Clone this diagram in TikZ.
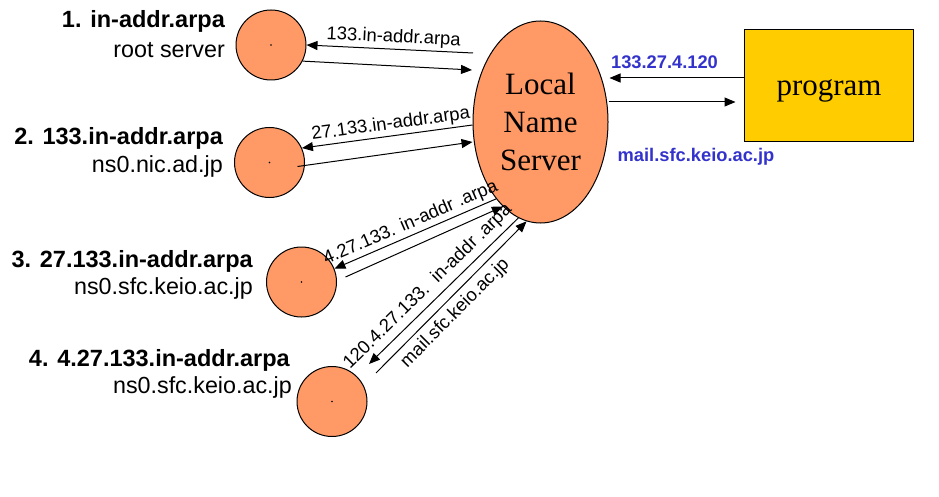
\documentclass[tikz,border=0pt]{standalone}
\usepackage{fontspec}
\setmainfont{Liberation Sans}
\newfontfamily\serifface{Liberation Serif}
\usetikzlibrary{arrows.meta,shapes.geometric,calc}
\definecolor{salmon}{HTML}{FF9966}
\definecolor{gold}{HTML}{FFCC00}
\definecolor{msgblue}{HTML}{3333CC}
\tikzset{
  server/.style={circle,draw=black,fill=salmon,line width=1pt,minimum size=70pt,inner sep=0pt},
  msg/.style={-{Triangle[length=11pt,width=9pt]},line width=1pt},
  arrowlbl/.style={font=\fontsize{18.4}{21}\selectfont,sloped,inner sep=2.5pt},
  zonelbl/.style={font=\fontsize{23.5}{27}\selectfont\bfseries,anchor=base east,inner sep=0pt},
  hostlbl/.style={font=\fontsize{23.3}{27}\selectfont,anchor=base east,inner sep=0pt},
  bluelbl/.style={font=\fontsize{18.3}{21}\selectfont\bfseries,text=msgblue,inner sep=0pt}
}
\begin{document}
\begin{tikzpicture}[x=1pt,y=-1pt]
\useasboundingbox (0,0) rectangle (939,497);

% name servers
\node[server] (c1) at (271,45) {};
\node[server] (c2) at (269.5,162.5) {};
\node[server] (c3) at (301.5,282) {};
\node[server] (c4) at (332,401.5) {};
\foreach \c in {c1,c2,c3,c4} \fill (\c.center) circle (0.9pt);

\node[ellipse,draw=black,fill=salmon,line width=1pt,minimum width=135pt,minimum height=202pt,inner sep=0pt,
      align=center,font=\serifface\fontsize{31}{38}\selectfont] (lns) at (540.5,122) {Local\\Name\\Server};

\node[rectangle,draw=black,fill=gold,line width=1pt,minimum width=169pt,minimum height=112pt] (prog) at (828.5,86) {};
\node[anchor=base,inner sep=0pt,font=\serifface\fontsize{31}{36}\selectfont] (progtxt) at (829,96) {program};

% zone / host labels
\node[zonelbl] (z1) at (225,28) {1. in-addr.arpa};
\node[hostlbl] (h1) at (225,58) {root server};
\node[zonelbl] (z2) at (223,145) {2. 133.in-addr.arpa};
\node[hostlbl] (h2) at (223,173) {ns0.nic.ad.jp};
\node[zonelbl] (z3) at (253,267) {3. 27.133.in-addr.arpa};
\node[hostlbl] (h3) at (253,294) {ns0.sfc.keio.ac.jp};
\node[zonelbl] (z4) at (290,366) {4. 4.27.133.in-addr.arpa};
\node[hostlbl] (h4) at (292,393) {ns0.sfc.keio.ac.jp};

% queries and answers
\draw[msg] ($(lns.west)+(0.5,-69)$) -- node[arrowlbl,above,pos=0.48] {133.in-addr.arpa} (c1.east);
\draw[msg] (c1.-27) -- ($(lns.west)+(-0.5,-52)$);

\draw[msg] ($(lns.west)+(0,3)$) -- node[arrowlbl,above,pos=0.47] {27.133.in-addr.arpa} (c2.24);
\draw[msg] ($(c2.center)+(28,4)$) -- ($(lns.west)+(0,20)$);

\draw[msg] (lns.-120.6) -- node[arrowlbl,above,pos=0.5] {4.27.133. in-addr .arpa} (c3.22);
\draw[msg] ($(c3.east)+(8.5,-5)$) -- (lns.-114);

\draw[msg] (lns.-103) -- node[arrowlbl,above,pos=0.54,inner sep=5pt] {120.4.27.133.\ \ in-addr .arpa} ($(c4.center)+(37,-37.5)$);
\draw[msg] ($(c4.center)+(44,-28.5)$) -- node[arrowlbl,below,pos=0.46,inner sep=5pt] {mail.sfc.keio.ac.jp} (lns.-98.6);

% program side
\draw[msg] ($(prog.west)+(0,-8)$) -- ($(lns.east)+(1,-44)$);
\draw[msg] ($(lns.east)+(0,-20)$) -- ($(prog.west)+(-8,16)$);
\node[bluelbl] (ans) at (664.5,62) {133.27.4.120};
\node[bluelbl] (qry) at (696,157) {mail.sfc.keio.ac.jp};
\end{tikzpicture}
\end{document}
